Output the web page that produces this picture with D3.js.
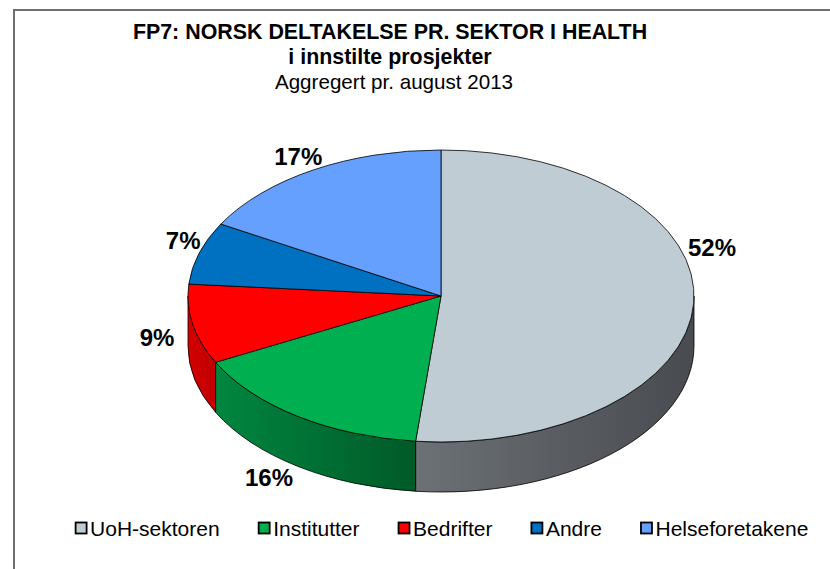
<!DOCTYPE html>
<html>
<head>
<meta charset="utf-8">
<script src="https://cdn.jsdelivr.net/npm/d3@7/dist/d3.min.js"></script>
<style>
  body { margin: 0; background: #fff; }
  svg { display: block; font-family: "Liberation Sans", Arial, sans-serif; }
</style>
</head>
<body>
<svg width="830" height="569"></svg>
<script>
// chart data
const sectors = ['UoH-sektoren', 'Institutter', 'Bedrifter', 'Andre', 'Helseforetakene'];
const shares = [51.6, 15.9, 8.8, 6.9, 16.8];
const titleLines = ['FP7: NORSK DELTAKELSE PR. SEKTOR I HEALTH', 'i innstilte prosjekter', 'Aggregert pr. august 2013'];

const topColors = ['#bfccd3', '#00b050', '#ff0000', '#0070c0', '#66a0ff'];
const sideLight = ['#6c7175', '#00863f', '#d40000', '#005ea0', '#5a88d8'];
const sideDark = ['#484b50', '#005a28', '#c00000', '#004a80', '#4a70b8'];

const svg = d3.select('svg');
const width = +svg.attr('width');
const height = +svg.attr('height');

const cx = 441, cy = 296;
const rx = 253, ry = 146;
const depth = 50;

// frame
svg.append('rect')
    .attr('x', 14).attr('y', 10)
    .attr('width', width).attr('height', height)
    .attr('fill', 'none')
    .attr('stroke', '#707070')
    .attr('stroke-width', 2);

const data = sectors.map((s, i) => ({ name: s, value: shares[i], i }));

const pie = d3.pie()
    .value(d => d.value)
    .sort(null)
    .startAngle(0)
    .endAngle(2 * Math.PI);

const arcs = pie(data);

const pt = (a, dy = 0) => [cx + rx * Math.sin(a), cy - ry * Math.cos(a) + dy];

const defs = svg.append('defs');
arcs.forEach(a => {
    const grad = defs.append('linearGradient')
        .attr('id', 'side' + a.data.i)
        .attr('x1', 0).attr('x2', 1).attr('y1', 0).attr('y2', 0);
    grad.append('stop').attr('offset', 0).attr('stop-color', sideLight[a.data.i]);
    grad.append('stop').attr('offset', 1).attr('stop-color', sideDark[a.data.i]);
});

// outer walls, only the part facing the viewer (between 90 and 270 deg)
const sidePath = a => {
    const s = Math.max(a.startAngle, Math.PI / 2);
    const e = Math.min(a.endAngle, 3 * Math.PI / 2);
    if (e <= s) return null;
    const p0 = pt(s), p1 = pt(e), q1 = pt(e, depth), q0 = pt(s, depth);
    return `M${p0}A${rx},${ry} 0 0 1 ${p1}L${q1}A${rx},${ry} 0 0 0 ${q0}Z`;
};

const topPath = a => {
    const p0 = pt(a.startAngle), p1 = pt(a.endAngle);
    const large = a.endAngle - a.startAngle > Math.PI ? 1 : 0;
    return `M${cx},${cy}L${p0}A${rx},${ry} 0 ${large} 1 ${p1}Z`;
};

const g = svg.append('g');

g.selectAll('path.side')
    .data(arcs.filter(a => sidePath(a)))
    .enter()
        .append('path')
        .attr('class', 'side')
        .attr('d', sidePath)
        .attr('fill', a => `url(#side${a.data.i})`)
        .attr('stroke', '#000')
        .attr('stroke-width', 0.8)
        .attr('stroke-linejoin', 'round');

g.selectAll('path.top')
    .data(arcs)
    .enter()
        .append('path')
        .attr('class', 'top')
        .attr('d', topPath)
        .attr('fill', a => topColors[a.data.i])
        .attr('stroke', '#000')
        .attr('stroke-width', 0.8)
        .attr('stroke-linejoin', 'round');

// percent labels
const labelNudge = { 'UoH-sektoren': [-12, -59], 'Institutter': [-12, 5], 'Bedrifter': [-6, 0], 'Andre': [13, -7], 'Helseforetakene': [0, 2] };
const labelPos = a => {
    const m = (a.startAngle + a.endAngle) / 2;
    const c = Math.cos(m);
    const n = labelNudge[a.data.name];
    return [
        cx + rx * 1.12 * Math.sin(m) + n[0],
        cy - ry * 1.12 * c + (c < 0 ? -c * depth : 0) + n[1]
    ];
};

g.selectAll('text.pct')
    .data(arcs)
    .enter()
        .append('text')
        .attr('class', 'pct')
        .attr('x', a => labelPos(a)[0])
        .attr('y', a => labelPos(a)[1])
        .attr('text-anchor', 'middle')
        .attr('dominant-baseline', 'central')
        .style('font-size', '24px')
        .style('font-weight', 'bold')
        .text(a => d3.format('.0f')(a.data.value) + '%');

// title
const titleY = [39, 64, 89];
svg.append('g')
    .selectAll('text')
    .data(titleLines)
    .enter()
        .append('text')
        .attr('x', (d, i) => i < 2 ? 390 : 394)
        .attr('y', (d, i) => titleY[i])
        .attr('text-anchor', 'middle')
        .style('font-size', (d, i) => i < 2 ? '21.4px' : '20.6px')
        .style('font-weight', (d, i) => i < 2 ? 'bold' : 'normal')
        .text(d => d);

// legend, laid out left to right and centred under the pie
const legend = svg.append('g')
    .selectAll('g')
    .data(sectors)
    .enter()
        .append('g');

legend.append('rect')
    .attr('x', 0).attr('y', -6)
    .attr('width', 11).attr('height', 11)
    .attr('fill', (d, i) => topColors[i])
    .attr('stroke', '#000')
    .attr('stroke-width', 1.8);

legend.append('text')
    .attr('x', 14.5)
    .attr('y', 7.5)
    .style('font-size', '21px')
    .text(d => d);

const itemW = legend.nodes().map(n => 14.5 + n.querySelector('text').getComputedTextLength());
const gap = 39;
const total = d3.sum(itemW) + gap * (itemW.length - 1);
let x0 = cx + 1 - total / 2;
legend.attr('transform', (d, i) => {
    const x = x0;
    x0 += itemW[i] + gap;
    return `translate(${x}, 528.5)`;
});
</script>
</body>
</html>
